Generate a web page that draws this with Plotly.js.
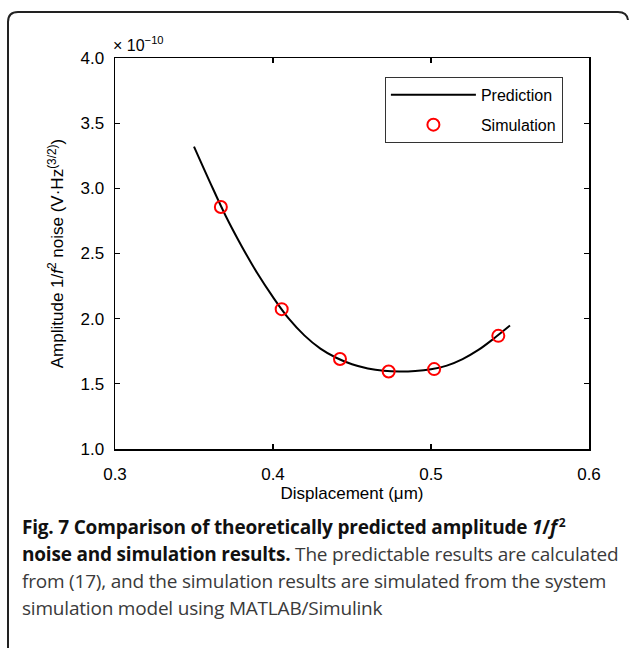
<!DOCTYPE html>
<html>
<head>
<meta charset="utf-8">
<script src="https://cdn.plot.ly/plotly-3.0.1.min.js"></script>
<style>
  html, body { margin:0; padding:0; background:#fff; }
  #wrap { position:relative; width:629px; height:649px; overflow:hidden; }
  #chart { position:absolute; left:0; top:0; width:629px; height:649px; }
  #frame { position:absolute; left:0; top:0; pointer-events:none; }
  #caption { position:absolute; left:22px; top:514px; width:605px;
    font-family:"Open Sans", "Noto Sans", sans-serif; font-size:19px; line-height:27px;
    color:#3a3a3a; white-space:nowrap; letter-spacing:-0.2px; }
  #caption b { color:#111; font-weight:700; }
  #caption sup { font-size:12px; line-height:0; margin-left:2px; }
</style>
</head>
<body>
<div id="wrap">
  <div id="chart"></div>
  <svg id="frame" width="629" height="649">
    <path d="M8,648 L8,22 Q8,12 18,12 L618,12 Q627,12 628,20" fill="none" stroke="#222" stroke-width="2"/>
  </svg>
  <div id="caption">
    <b>Fig. 7 Comparison of theoretically predicted amplitude <i>1</i>/<i>f</i><sup>2</sup></b><br>
    <b>noise and simulation results.</b> The predictable results are calculated<br>
    from (17), and the simulation results are simulated from the system<br>
    simulation model using MATLAB/Simulink
  </div>
</div>
<script>
// Prediction curve (values in units of 1e-10)
const predX = [0.35, 0.36, 0.37, 0.38, 0.39, 0.40, 0.41, 0.42, 0.43, 0.44, 0.45, 0.46, 0.47, 0.48, 0.49, 0.50, 0.51, 0.52, 0.53, 0.54, 0.55];
const predY = [3.32, 3.05, 2.79, 2.56, 2.35, 2.165, 2.00, 1.87, 1.77, 1.70, 1.65, 1.618, 1.60, 1.594, 1.598, 1.612, 1.64, 1.69, 1.76, 1.85, 1.947];

// Simulation points
const simX = [0.367, 0.4055, 0.4424, 0.4732, 0.502, 0.5426];
const simY = [2.857, 2.073, 1.690, 1.595, 1.613, 1.868];

// Axis ticks
const xTicks = [0.3, 0.4, 0.5, 0.6];
const xTickText = ['0.3', '0.4', '0.5', '0.6'];
const yTicks = [1.0, 1.5, 2.0, 2.5, 3.0, 3.5, 4.0];
const yTickText = ['1.0', '1.5', '2.0', '2.5', '3.0', '3.5', '4.0'];

const FONT = 'Liberation Sans, Arial, Helvetica, sans-serif';

const traces = [
  { x: predX, y: predY, type: 'scatter', mode: 'lines', name: 'Prediction', legendgroup: 'a',
    line: { color: '#000', width: 2, shape: 'spline', smoothing: 1 } },
  { x: simX, y: simY, type: 'scatter', mode: 'markers', name: 'Simulation', legendgroup: 'b',
    marker: { symbol: 'circle-open', size: 12, color: '#ff0000', line: { width: 2, color: '#ff0000' } } }
];

const axisCommon = {
  showline: true, linecolor: '#000', linewidth: 1.5, mirror: 'ticks',
  ticks: 'inside', ticklen: 5, tickwidth: 1.2, tickcolor: '#000',
  showgrid: false, zeroline: false, tickfont: { family: FONT, size: 17, color: '#000' }
};

const layout = {
  width: 629, height: 649,
  margin: { l: 115, r: 40, t: 58, b: 200 },
  paper_bgcolor: '#fff', plot_bgcolor: '#fff',
  font: { family: FONT, color: '#000' },
  showlegend: true,
  legend: {
    x: 0.569, y: 0.952, xanchor: 'left', yanchor: 'top',
    bordercolor: '#333', borderwidth: 1.2, bgcolor: '#fff',
    font: { family: FONT, size: 16, color: '#000' },
    itemwidth: 85, traceorder: 'grouped', tracegroupgap: 6
  },
  xaxis: Object.assign({}, axisCommon, {
    range: [0.3, 0.6], tickvals: xTicks, ticktext: xTickText, ticklabelstandoff: 9,
    title: { text: 'Displacement (\u03bcm)', font: { family: FONT, size: 17, color: '#000' }, standoff: 3 }
  }),
  yaxis: Object.assign({}, axisCommon, {
    range: [1.0, 4.0], tickvals: yTicks, ticktext: yTickText, ticklabelstandoff: 6,
    title: { text: 'Amplitude 1/<i>f</i><sup>2</sup> noise (V\u00b7Hz<sup>(3/2)</sup>)', font: { family: FONT, size: 17, color: '#000' }, standoff: 12 }
  }),
  annotations: [
    { xref: 'paper', yref: 'paper', x: 0, y: 1, xanchor: 'left', yanchor: 'bottom',
      xshift: -4, yshift: 2, showarrow: false,
      text: '\u00d7 10<sup>\u221210</sup>', font: { family: FONT, size: 16, color: '#000' } }
  ]
};

Plotly.newPlot('chart', traces, layout, { staticPlot: true, displayModeBar: false });
</script>
</body>
</html>
